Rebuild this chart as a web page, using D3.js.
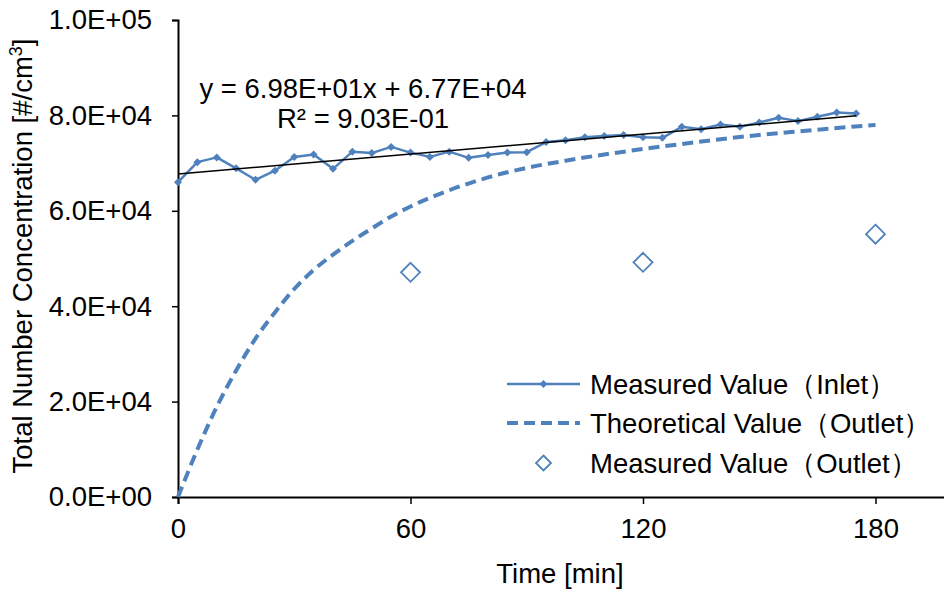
<!DOCTYPE html>
<html>
<head>
<meta charset="utf-8">
<script src="https://cdn.jsdelivr.net/npm/d3@7"></script>
<style>
  html, body { margin: 0; padding: 0; background: #fff; }
  svg { display: block; }
  text { font-family: "Liberation Sans", Arial, sans-serif; fill: #000; }
</style>
</head>
<body>
<svg id="chart" width="944" height="592"></svg>
<script>
// Inlet concentration, measured every 5 min
const inletTime = [0,5,10,15,20,25,30,35,40,45,50,55,60,65,70,75,80,85,90,95,100,105,110,115,120,125,130,135,140,145,150,155,160,165,170,175];
const inletValue = [66000,70200,71200,68900,66500,68400,71300,71800,68800,72400,72100,73400,72200,71300,72400,71100,71700,72200,72300,74400,74800,75400,75700,75900,75400,75300,77600,77100,78100,77600,78500,79500,78800,79700,80600,80400];

// Theoretical outlet concentration
const theoTime = [0,5,10,15,20,25,30,35,40,45,50,55,60,70,80,90,100,110,120,130,140,150,160,170,180];
const theoValue = [0,9950,18900,26500,33200,38700,43600,47600,50800,53700,56300,58800,60900,64300,67000,69000,70500,71800,72950,74000,75000,75900,76650,77350,78000];

// Outlet concentration, measured
const outletTime = [60,120,180];
const outletValue = [47100,49200,55100];

// Linear fit of the inlet series
const fitSlope = 69.8;
const fitIntercept = 67700;
const fitR2 = 0.903;
const fitRange = [0,175];

// Axes
const xTicks = [0,60,120,180];
const yTicks = [0,20000,40000,60000,80000,100000];

const legendLabels = ["Measured Value（Inlet）","Theoretical Value（Outlet）","Measured Value（Outlet）"];

const blue = "#4F81BD";
const fs = "27.5px";

function fmtE(v, digits) {
  if (v === 0) return (0).toFixed(digits) + "E+00";
  const e = Math.floor(Math.log10(Math.abs(v)));
  const m = v / Math.pow(10, e);
  const sign = e < 0 ? "-" : "+";
  return m.toFixed(digits) + "E" + sign + String(Math.abs(e)).padStart(2, "0");
}

const svg = d3.select("#chart");
const x = d3.scaleLinear().domain([0,200]).range([178,953]);
const y = d3.scaleLinear().domain([0,100000]).range([497,20]);

// Axes
const yAxis = d3.axisLeft(y).tickValues(yTicks).tickSize(6).tickPadding(20).tickFormat(d => fmtE(d,1));
const gy = svg.append("g").attr("transform", `translate(${x(0)},0)`).call(yAxis);
gy.selectAll("text").style("font-size",fs);

const xAxis = d3.axisBottom(x).tickValues(xTicks).tickSize(7).tickPadding(14).tickFormat(d3.format("d"));
const gx = svg.append("g").attr("transform", `translate(0,${y(0)})`).call(xAxis);
gx.selectAll("text").style("font-size",fs);

[gx, gy].forEach(g => {
  g.select(".domain").attr("stroke","#000").attr("stroke-width",2);
  g.selectAll(".tick line").attr("stroke","#000").attr("stroke-width",1.5);
});

// Axis titles
svg.append("text")
  .attr("x", 560).attr("y", 583)
  .attr("text-anchor","middle")
  .style("font-size",fs)
  .text("Time [min]");

const yt = svg.append("text")
  .attr("transform","translate(32,256) rotate(-90)")
  .attr("text-anchor","middle")
  .style("font-size",fs);
yt.append("tspan").text("Total Number Concentration [#/cm");
yt.append("tspan").attr("dy",-10).style("font-size","18px").text("3");
yt.append("tspan").attr("dy",10).text("]");

// Theoretical outlet (dashed)
const theo = theoTime.map((t,i) => [t, theoValue[i]]);
svg.append("path")
  .datum(theo)
  .attr("fill","none")
  .attr("stroke",blue)
  .attr("stroke-width",4)
  .attr("stroke-dasharray","11,6")
  .attr("d", d3.line().x(d => x(d[0])).y(d => y(d[1])).curve(d3.curveMonotoneX));

// Inlet measured line
const inlet = inletTime.map((t,i) => [t, inletValue[i]]);
svg.append("path")
  .datum(inlet)
  .attr("fill","none")
  .attr("stroke",blue)
  .attr("stroke-width",2.5)
  .attr("stroke-linejoin","round")
  .attr("d", d3.line().x(d => x(d[0])).y(d => y(d[1])));

function diamond(cx, cy, r) {
  return `M${cx},${cy-r}L${cx+r},${cy}L${cx},${cy+r}L${cx-r},${cy}Z`;
}

svg.append("g").selectAll("path")
  .data(inlet).join("path")
  .attr("d", d => diamond(x(d[0]), y(d[1]), 4))
  .attr("fill", blue);

// Linear fit
svg.append("line")
  .attr("x1", x(fitRange[0])).attr("y1", y(fitSlope*fitRange[0] + fitIntercept))
  .attr("x2", x(fitRange[1])).attr("y2", y(fitSlope*fitRange[1] + fitIntercept))
  .attr("stroke","#000").attr("stroke-width",1.5);

// Outlet measured markers
const outlet = outletTime.map((t,i) => [t, outletValue[i]]);
svg.append("g").selectAll("path")
  .data(outlet).join("path")
  .attr("d", d => diamond(x(d[0]), y(d[1]), 9.5))
  .attr("fill","#fff")
  .attr("stroke", blue)
  .attr("stroke-width",1.8);

// Fit equation
svg.append("text")
  .attr("x", 363).attr("y", 98)
  .attr("text-anchor","middle")
  .style("font-size",fs)
  .text(`y = ${fmtE(fitSlope,2)}x + ${fmtE(fitIntercept,2)}`);
svg.append("text")
  .attr("x", 363).attr("y", 128)
  .attr("text-anchor","middle")
  .style("font-size",fs)
  .text(`R² = ${fmtE(fitR2,2)}`);

// Legend
const lg = svg.append("g");
const rows = [384, 423, 463];
lg.append("line").attr("x1",507).attr("x2",580).attr("y1",rows[0]).attr("y2",rows[0])
  .attr("stroke",blue).attr("stroke-width",2.5);
lg.append("path").attr("d", diamond(543.5, rows[0], 4)).attr("fill",blue);
lg.append("line").attr("x1",507).attr("x2",580).attr("y1",rows[1]).attr("y2",rows[1])
  .attr("stroke",blue).attr("stroke-width",4).attr("stroke-dasharray","11,6");
lg.append("path").attr("d", diamond(543.5, rows[2], 7.5))
  .attr("fill","#fff").attr("stroke",blue).attr("stroke-width",1.8);
lg.selectAll("text").data(legendLabels).join("text")
  .attr("x", 590).attr("y", (d,i) => rows[i] + 10)
  .style("font-size",fs)
  .text(d => d);
</script>
</body>
</html>
